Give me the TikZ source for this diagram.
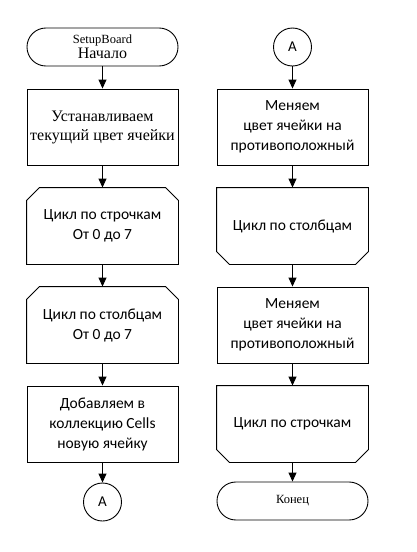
\documentclass[tikz,border=0pt]{standalone}
\usepackage{fontspec}
\setmainfont{Liberation Serif}
\newfontfamily\carl{Carlito}
\usetikzlibrary{arrows.meta}
\tikzset{
  x=1pt, y=-1pt,
  every path/.style={line width=0.9pt},
  flow/.style={draw, line width=0.9pt, -{Triangle[length=9pt,width=8pt]}},
  term/.style={draw, rounded corners=18.9pt, minimum width=151pt, minimum height=38pt, inner sep=0pt, align=center},
  procbox/.style={draw, minimum width=151pt, minimum height=76pt, inner sep=0pt, align=center, font=\carl\fontsize{15.5}{20}\selectfont},
  loopbox/.style={minimum width=151pt, minimum height=76pt, inner sep=0pt, align=center, font=\carl\fontsize{15.5}{20}\selectfont},
  conn/.style={draw, circle, minimum size=38pt, inner sep=0pt, font=\carl\fontsize{15}{17}\selectfont},
}
\newcommand{\chamtop}[1]{\draw (#1.south west) -- ([yshift=-13pt]#1.north west) -- ([xshift=13pt]#1.north west) -- ([xshift=-13pt]#1.north east) -- ([yshift=-13pt]#1.north east) -- (#1.south east) -- cycle;}
\newcommand{\chambot}[1]{\draw (#1.north west) -- ([yshift=13pt]#1.south west) -- ([xshift=13pt]#1.south west) -- ([xshift=-13pt]#1.south east) -- ([yshift=13pt]#1.south east) -- (#1.north east) -- cycle;}
\begin{document}
\begin{tikzpicture}
\useasboundingbox[fill=white] (0,0) rectangle (416,552);
% left column
\node[term, font=\rmfamily] (start) at (102.5,47) {\fontsize{12.5}{15}\selectfont SetupBoard\\[1pt]\fontsize{16}{18}\selectfont Начало};
\node[procbox, font=\rmfamily\fontsize{16}{19}\selectfont] (set) at (102.5,127) {Устанавливаем\\текущий цвет ячейки};
\node[loopbox] (rows) at (102.5,226) {Цикл по строчкам\\От 0 до 7};
\chamtop{rows}
\node[loopbox] (cols) at (102.5,325) {Цикл по столбцам\\От 0 до 7};
\chamtop{cols}
\node[procbox] (add) at (102.5,424) {Добавляем в\\коллекцию Cells\\новую ячейку};
\node[conn] (a1) at (102.5,502) {A};
% right column
\node[conn] (a2) at (292.5,47) {A};
\node[procbox] (inv1) at (292.5,127) {Меняем\\цвет ячейки на\\противоположный};
\node[loopbox] (colsend) at (292.5,226) {Цикл по столбцам};
\chambot{colsend}
\node[procbox] (inv2) at (292.5,325) {Меняем\\цвет ячейки на\\противоположный};
\node[loopbox] (rowsend) at (292.5,424) {Цикл по строчкам};
\chambot{rowsend}
\node[term, font=\rmfamily\fontsize{12.5}{15}\selectfont] (end) at (292.5,501) {Конец};
% connectors
\draw[flow] (start) -- (set);
\draw[flow] (set) -- (rows);
\draw[flow] (rows) -- (cols);
\draw[flow] (cols) -- (add);
\draw[flow] (add) -- (a1);
\draw[flow] (a2) -- (inv1);
\draw[flow] (inv1) -- (colsend);
\draw[flow] (colsend) -- (inv2);
\draw[flow] (inv2) -- (rowsend);
\draw[flow] (rowsend) -- (end);
\end{tikzpicture}
\end{document}
